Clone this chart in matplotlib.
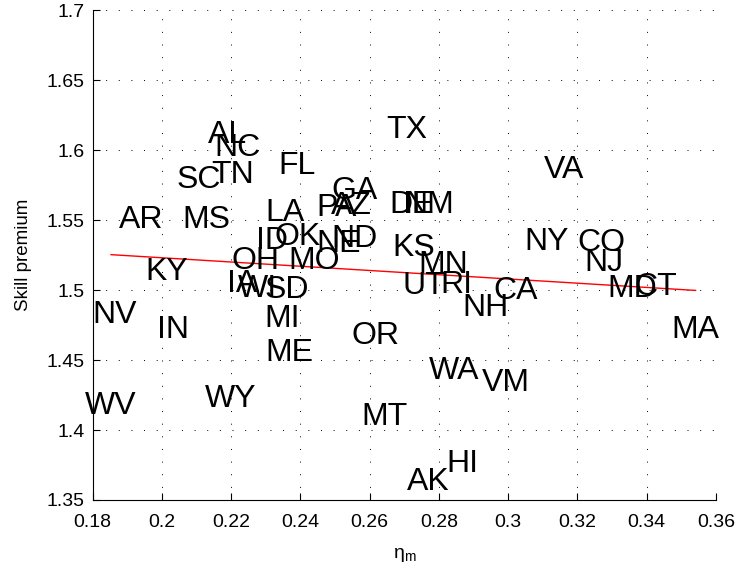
import numpy as np
import matplotlib
matplotlib.use("Agg")
import matplotlib.pyplot as plt

# State labels with their eta_m and skill premium values
states = ["AL", "NC", "SC", "TN", "FL", "AR", "MS", "LA", "ID", "OK",
          "OH", "KY", "IA", "WI", "SD", "MI", "NV", "IN", "ME", "WV",
          "WY", "OR", "MT", "WA", "VM", "HI", "AK", "NH", "TX", "GA",
          "PA", "AZ", "DE", "IL", "NM", "NE", "ND", "MO", "KS", "MN",
          "UT", "RI", "CA", "VA", "NY", "CO", "NJ", "MD", "CT", "MA"]
eta_m = [0.2190, 0.2219, 0.2107, 0.2205, 0.2391, 0.1939, 0.2127, 0.2354, 0.2317, 0.2393,
         0.2271, 0.2014, 0.2231, 0.2277, 0.2361, 0.2348, 0.1864, 0.2032, 0.2367, 0.1853,
         0.2199, 0.2618, 0.2644, 0.2843, 0.2993, 0.2869, 0.2768, 0.2935, 0.2706, 0.2557,
         0.2505, 0.2548, 0.2722, 0.2736, 0.2773, 0.2511, 0.2557, 0.2439, 0.2727, 0.2811,
         0.2756, 0.2849, 0.3022, 0.3160, 0.3111, 0.3270, 0.3277, 0.3359, 0.3426, 0.3541]
skill_premium = [1.6104, 1.6014, 1.5788, 1.5818, 1.5886, 1.5502, 1.5502, 1.5550, 1.5350, 1.5379,
                 1.5207, 1.5129, 1.5043, 1.5007, 1.5000, 1.4793, 1.4825, 1.4714, 1.4550, 1.4175,
                 1.4225, 1.4668, 1.4096, 1.4421, 1.4336, 1.3757, 1.3632, 1.4871, 1.6145, 1.5707,
                 1.5586, 1.5600, 1.5607, 1.5607, 1.5607, 1.5329, 1.5364, 1.5207, 1.5300, 1.5179,
                 1.5032, 1.5036, 1.4993, 1.5857, 1.5346, 1.5336, 1.5193, 1.5007, 1.5018, 1.4714]

x_ticks = [0.18, 0.2, 0.22, 0.24, 0.26, 0.28, 0.3, 0.32, 0.34, 0.36]
x_tick_labels = ["0.18", "0.2", "0.22", "0.24", "0.26", "0.28", "0.3", "0.32", "0.34", "0.36"]
y_ticks = [1.35, 1.4, 1.45, 1.5, 1.55, 1.6, 1.65, 1.7]
y_tick_labels = ["1.35", "1.4", "1.45", "1.5", "1.55", "1.6", "1.65", "1.7"]

plt.rcParams["font.family"] = ["Liberation Sans", "DejaVu Sans"]

fig = plt.figure(figsize=(7.37, 5.73), dpi=100)
ax = fig.add_axes([0.1258, 0.1274, 0.9715 - 0.1258, 0.9825 - 0.1274])

x = np.array(eta_m)
y = np.array(skill_premium)

for name, xi, yi in zip(states, x, y):
    ax.text(xi, yi, name, ha="center", va="center", fontsize=23, color="black")

# least-squares fit across the data range
slope, intercept = np.polyfit(x, y, 1)
xf = np.array([x.min(), x.max()])
ax.plot(xf, intercept + slope * xf, color="red", lw=1.0)

ax.set_xlim(0.18, 0.36)
ax.set_ylim(1.35, 1.7)
ax.set_xticks(x_ticks)
ax.set_xticklabels(x_tick_labels)
ax.set_yticks(y_ticks)
ax.set_yticklabels(y_tick_labels)
ax.tick_params(direction="in", length=5, width=0.8, labelsize=14, colors="black")
ax.tick_params(axis="x", pad=10)
ax.tick_params(axis="y", pad=6)

ax.grid(True, color="black", linestyle=(0, (1, 12)), linewidth=0.7)
ax.set_axisbelow(True)

for side in ("top", "right"):
    ax.spines[side].set_visible(False)
for side in ("left", "bottom"):
    ax.spines[side].set_linewidth(0.8)

ax.set_ylabel("Skill premium", fontsize=13.5, labelpad=10)
ax.set_xlabel(r"$\mathregular{\eta_m}$", fontsize=14, labelpad=11)

fig.savefig("out.png", dpi=100)
